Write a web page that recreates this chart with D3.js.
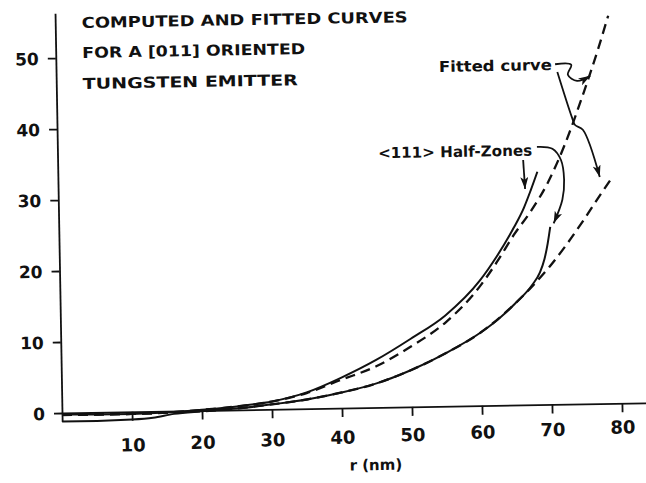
<!DOCTYPE html>
<html>
<head>
<meta charset="utf-8">
<script src="https://cdn.jsdelivr.net/npm/d3@7"></script>
<style>
  html, body { margin: 0; padding: 0; background: #fff; }
  svg { display: block; }
  text { font-family: "DejaVu Sans", sans-serif; font-weight: bold; fill: #111; }
</style>
</head>
<body>
<script>
/* global d3 */

// r (nm) and values
var upperComputedR = [0, 5, 10, 15, 20, 25, 30, 35, 40, 45, 50, 55, 60, 62.5, 65, 66.5, 67.5, 68.5];
var upperComputedV = [-0.2, -0.3, -0.3, -0.2, 0.1, 0.5, 1.1, 2.3, 4.3, 6.7, 9.6, 12.8, 17.6, 21.0, 25.0, 27.8, 30.2, 32.8];

var upperFittedR = [0, 5, 10, 15, 20, 25, 30, 35, 40, 45, 50, 55, 60, 62.5, 65, 67.5, 70, 72.5, 75, 77.5, 79];
var upperFittedV = [-0.2, -0.3, -0.3, -0.2, 0.1, 0.5, 1.1, 2.2, 4.0, 5.8, 8.5, 11.8, 16.8, 20.2, 24.0, 27.3, 31.3, 36.6, 43.0, 50.0, 54.6];

var lowerComputedR = [0, 5, 10, 13, 16, 20, 25, 30, 35, 40, 45, 50, 55, 60, 62.5, 65, 67.5, 68.6, 69.3, 69.8, 70.2];
var lowerComputedV = [-1.2, -1.2, -1.1, -0.9, -0.4, -0.1, 0.2, 0.7, 1.3, 2.2, 3.4, 5.2, 7.5, 10.3, 12.1, 14.3, 16.9, 18.6, 20.5, 22.7, 25.0];

var lowerFittedR = [0, 5, 10, 15, 20, 25, 30, 35, 40, 45, 50, 55, 60, 65, 67.5, 70, 72.5, 75, 77.5, 79.3];
var lowerFittedV = [-0.3, -0.3, -0.3, -0.2, -0.1, 0.2, 0.7, 1.3, 2.2, 3.4, 5.2, 7.5, 10.3, 14.3, 16.7, 19.4, 22.5, 25.9, 29.5, 32.0];

var xTicks = [10, 20, 30, 40, 50, 60, 70, 80];
var yTicks = [0, 10, 20, 30, 40, 50];

var titleLines = ['COMPUTED AND FITTED CURVES', 'FOR A [011] ORIENTED', 'TUNGSTEN EMITTER'];

function zip(a, b) { return a.map(function(d, i){ return [d, b[i]]; }); }

var width = 646, height = 483;
var origin = {x: 62, y: 413};
var tilt = -1;  // the scanned figure sits slightly rotated

var svg = d3.select('body').append('svg')
            .attr('width', width)
            .attr('height', height)
            .attr('xmlns', 'http://www.w3.org/2000/svg');

svg.append('rect').attr('width', width).attr('height', height).attr('fill', '#fff');

var defs = svg.append('defs');
defs.append('marker')
    .attr('id', 'head')
    .attr('markerUnits', 'userSpaceOnUse')
    .attr('markerWidth', 13).attr('markerHeight', 8)
    .attr('refX', 12).attr('refY', 4)
    .attr('orient', 'auto')
  .append('path')
    .attr('d', 'M0,0 L12,4 L0,8 L3,4 z')
    .attr('fill', '#111');

var g = svg.append('g')
           .attr('transform', 'translate(' + origin.x + ',' + origin.y + ') rotate(' + tilt + ')');

var x = d3.scaleLinear().domain([0, 83.5]).range([0, 584.5]);
var y = d3.scaleLinear().domain([-1.2, 56.3]).range([1.2 * 7.1, -56.3 * 7.1]);

// x axis
var xAxis = g.append('g')
  .call(d3.axisBottom(x).tickValues(xTicks).tickSize(9).tickSizeOuter(0));
xAxis.select('.domain').attr('stroke', '#111').attr('stroke-width', 1.8);
xAxis.selectAll('.tick line').attr('stroke', '#111').attr('stroke-width', 1.8);
xAxis.selectAll('.tick text')
  .attr('y', function(d){ return 34.5 - 0.134 * d; })  // hand lettering drifts up to the right
  .attr('dy', '0.36em')
  .style('font-size', '18px')
  .style('font-family', '"DejaVu Sans", sans-serif')
  .style('font-weight', 'bold')
  .attr('fill', '#111');

// y axis
var yAxis = g.append('g')
  .call(d3.axisLeft(y).tickValues(yTicks).tickSize(8).tickSizeOuter(0).tickPadding(9));
yAxis.select('.domain').attr('stroke', '#111').attr('stroke-width', 1.8);
yAxis.selectAll('.tick line').attr('stroke', '#111').attr('stroke-width', 1.8);
yAxis.selectAll('.tick text')
  .attr('dy', '0.36em')
  .style('font-size', '17px')
  .style('font-family', '"DejaVu Sans", sans-serif')
  .style('font-weight', 'bold')
  .attr('fill', '#111');

g.append('text')
  .attr('x', x(44.7))
  .attr('y', 62.5)
  .attr('text-anchor', 'middle')
  .style('font-size', '15px')
  .text('r (nm)');

// curves
var line = d3.line()
  .x(function(d){ return x(d[0]); })
  .y(function(d){ return y(d[1]); })
  .curve(d3.curveMonotoneX);

var series = [
  {pts: zip(upperFittedR, upperFittedV), dash: '10,6'},
  {pts: zip(lowerFittedR, lowerFittedV), dash: '10,6'},
  {pts: zip(upperComputedR, upperComputedV), dash: null},
  {pts: zip(lowerComputedR, lowerComputedV), dash: null}
];

g.selectAll('path.curve')
  .data(series)
  .enter()
  .append('path')
    .attr('class', 'curve')
    .attr('d', function(d){ return line(d.pts); })
    .attr('fill', 'none')
    .attr('stroke', '#111')
    .attr('stroke-width', function(d){ return d.dash ? 2.3 : 2; })
    .attr('stroke-dasharray', function(d){ return d.dash; });

// title
g.selectAll('text.title')
  .data(titleLines)
  .enter()
  .append('text')
    .attr('class', 'title')
    .attr('x', 26.5)
    .attr('y', function(d, i){ return [-384.7, -354.7, -323.7][i]; })
    .attr('textLength', function(d, i){ return [326, 223, 215][i]; })
    .attr('lengthAdjust', 'spacingAndGlyphs')
    .style('font-size', '15px')
    .text(function(d){ return d; });

// annotations, anchored in data units
g.append('text')
  .attr('x', x(54.7)).attr('y', y(47.1))
  .attr('textLength', 113).attr('lengthAdjust', 'spacingAndGlyphs')
  .style('font-size', '15px')
  .text('Fitted curve');

g.append('text')
  .attr('x', x(45.8)).attr('y', y(35.1))
  .attr('textLength', 154).attr('lengthAdjust', 'spacingAndGlyphs')
  .style('font-size', '15px')
  .text('<111> Half-Zones');

var arrowLine = d3.line()
  .x(function(d){ return x(d[0]); })
  .y(function(d){ return y(d[1]); })
  .curve(d3.curveCatmullRom);

var arrows = [
  [[71.3, 47.9], [73.6, 47.8], [73.1, 46.4], [74.4, 45.5], [76.3, 46.2]],
  [[71.6, 46.8], [73.6, 40.3], [74.0, 39.3], [75.1, 38.6], [77.4, 31.9]],
  [[66.5, 34.5], [66.7, 30.4]],
  [[68.5, 36.3], [70.7, 36.0], [71.9, 34.4], [72.3, 31.6], [72.0, 28.8], [70.7, 25.5]]
];

g.selectAll('path.arrow')
  .data(arrows)
  .enter()
  .append('path')
    .attr('class', 'arrow')
    .attr('d', arrowLine)
    .attr('fill', 'none')
    .attr('stroke', '#111')
    .attr('stroke-width', 1.8)
    .attr('marker-end', 'url(#head)');
</script>
</body>
</html>
